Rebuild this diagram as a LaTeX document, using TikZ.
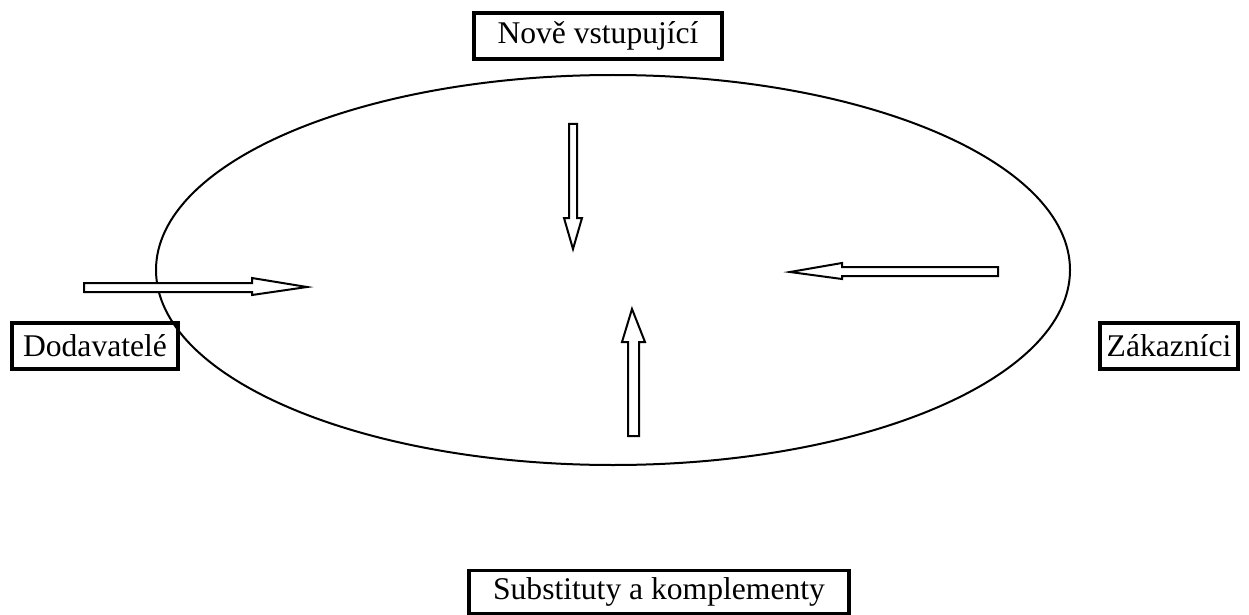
\documentclass[tikz,border=0pt]{standalone}
\usepackage{fontspec}
\setmainfont{Liberation Serif}
\begin{document}
\begin{tikzpicture}[x=1pt,y=-1pt,
  labelbox/.style={draw=black,line width=3.5pt,rectangle,inner sep=0pt,
    font=\fontsize{31.6}{38}\selectfont},
  blockarrow/.style={draw=black,fill=white,line width=2pt,line join=miter}]
\useasboundingbox (0,0) rectangle (1249,615);
% ellipse
\draw[line width=2pt] (613,270) ellipse [x radius=457, y radius=195];
% labels
\node[labelbox,minimum width=248pt,minimum height=46pt] (nove) at (598,36) {Nově vstupující};
\node[labelbox,minimum width=166pt,minimum height=46pt] (dod) at (95,346) {Dodavatelé};
\node[labelbox,minimum width=138pt,minimum height=46pt] (zak) at (1169,346) {Zákazníci};
\node[labelbox,minimum width=380pt,minimum height=43pt] (sub) at (659,592) {Substituty a komplementy};
% block arrows
\draw[blockarrow] (569,124) -- (577,124) -- (577,218) -- (582,218) -- (573,249) -- (564,218) -- (569,218) -- cycle;
\draw[blockarrow] (84,283) -- (252,283) -- (252,278) -- (307,287) -- (252,295) -- (252,292) -- (84,292) -- cycle;
\draw[blockarrow] (998,267) -- (842,267) -- (842,263) -- (790,272) -- (842,279) -- (842,276) -- (998,276) -- cycle;
\draw[blockarrow] (628,436) -- (628,342) -- (622,342) -- (632,309) -- (645,342) -- (639,342) -- (639,436) -- cycle;
\end{tikzpicture}
\end{document}
